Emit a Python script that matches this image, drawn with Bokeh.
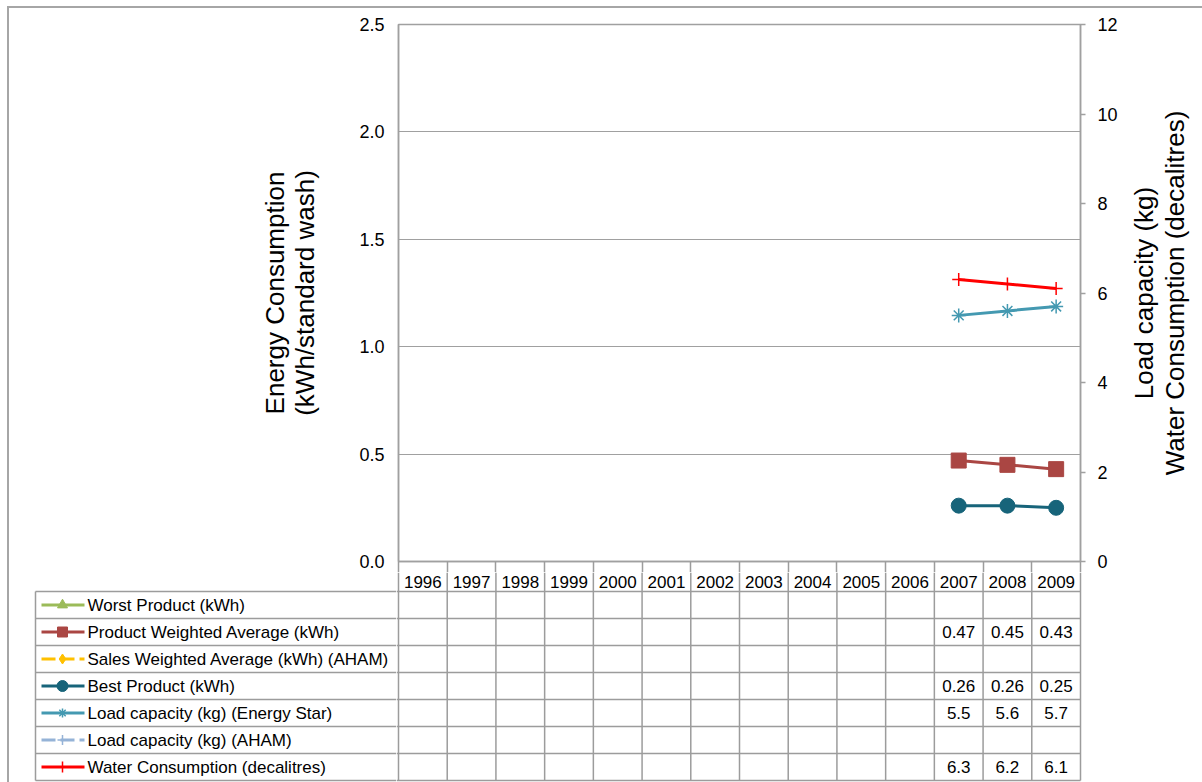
import math
import numpy as np
from bokeh.plotting import figure
from bokeh.models import (Range1d, LinearAxis, FixedTicker, PrintfTickFormatter,
                          ColumnDataSource)
from bokeh.layouts import column, row
from bokeh.embed import file_html
from bokeh.resources import INLINE
from bokeh.core.properties import value

# ---- data -------------------------------------------------------------
years = [1996, 1997, 1998, 1999, 2000, 2001, 2002, 2003, 2004, 2005, 2006, 2007, 2008, 2009]

worst_kwh = [None, None, None, None, None, None, None, None, None, None, None, None, None, None]
product_weighted_kwh = [None, None, None, None, None, None, None, None, None, None, None, 0.47, 0.45, 0.43]
sales_weighted_kwh = [None, None, None, None, None, None, None, None, None, None, None, None, None, None]
best_kwh = [None, None, None, None, None, None, None, None, None, None, None, 0.26, 0.26, 0.25]
load_energy_star_kg = [None, None, None, None, None, None, None, None, None, None, None, 5.5, 5.6, 5.7]
load_aham_kg = [None, None, None, None, None, None, None, None, None, None, None, None, None, None]
water_decalitres = [None, None, None, None, None, None, None, None, None, None, None, 6.3, 6.2, 6.1]

series_names = [
    "Worst Product (kWh)",
    "Product Weighted Average (kWh)",
    "Sales Weighted Average (kWh) (AHAM)",
    "Best Product (kWh)",
    "Load capacity (kg) (Energy Star)",
    "Load capacity (kg) (AHAM)",
    "Water Consumption (decalitres)",
]
series_values = [worst_kwh, product_weighted_kwh, sales_weighted_kwh, best_kwh,
                 load_energy_star_kg, load_aham_kg, water_decalitres]
series_axis = ["energy", "energy", "energy", "energy", "load", "load", "load"]
series_format = ["%.2f", "%.2f", "%.2f", "%.2f", "%.1f", "%.1f", "%.1f"]

energy_ticks = [0.0, 0.5, 1.0, 1.5, 2.0, 2.5]
load_ticks = [0, 2, 4, 6, 8, 10, 12]

left_title = "Energy Consumption\n(kWh/standard wash)"
right_title = "Load capacity (kg)\nWater Consumption (decalitres)"

# ---- styling ------------------------------------------------------------
FONT = "Liberation Sans"
GRID = "#A0A0A0"
TABLE_LINE = "#9C9C9C"
colors = ["#9BBB59", "#AA4643", "#FFC000", "#17647A", "#4499B1", "#95B3D7", "#FF0000"]
markers = ["triangle", "square", "diamond", "circle", "asterisk", "cross", "cross"]
dashes = ["solid", "solid", "14 5", "solid", "solid", "14 5", "solid"]
plot_marker_size = [13, 15, 13, 15, 14, 12, 13]
key_marker_size = [10, 10, 10, 11, 9, 10, 11]
marker_line = [1, 1, 1, 1, 1.5, 1.5, 1.5]

W = 1193                      # layout width (page is offset by the outer frame)
TITLE_W = 74                  # strip holding the right-hand axis title
PX_PER_YEAR = 682 / len(years)
LABEL_COL = 363 / PX_PER_YEAR  # legend column width in year units
ROW_PX = 27
HEADER = 30 / ROW_PX           # height of the year header row, in row units
STUB = 11                      # px of header row drawn by the chart's own x axis
TOP_H = 561 - 8 + STUB
n_rows = len(series_names)

x0 = years[0] - 0.5
x1 = years[-1] + 0.5
xl = x0 - LABEL_COL
pad = 2 / PX_PER_YEAR

# ---- chart ------------------------------------------------------------
top = figure(width=W - TITLE_W, height=TOP_H, x_range=Range1d(x0, x1), y_range=Range1d(0, 2.5),
             output_backend="svg", toolbar_location=None,
             min_border_left=389, min_border_right=122 - TITLE_W, min_border_top=16,
             min_border_bottom=STUB)
top.outline_line_color = GRID
top.outline_line_width = 1.5
top.background_fill_color = "white"
top.border_fill_color = "white"
top.xgrid.visible = False
top.ygrid.ticker = FixedTicker(ticks=energy_ticks)
top.ygrid.grid_line_color = GRID
top.ygrid.grid_line_width = 1

# column separators start right under the plot area
xa = top.xaxis[0]
xa.ticker = FixedTicker(ticks=[], minor_ticks=[yr - 0.5 for yr in years] + [x1])
xa.axis_line_color = GRID
xa.axis_line_width = 1.5
xa.major_tick_out = 0
xa.major_tick_in = 0
xa.minor_tick_in = 0
xa.minor_tick_out = STUB
xa.minor_tick_line_color = TABLE_LINE
xa.minor_tick_line_width = 1.5
xa.major_label_standoff = 0

left = top.yaxis[0]
left.ticker = FixedTicker(ticks=energy_ticks)
left.formatter = PrintfTickFormatter(format="%.1f")
left.axis_label = left_title

top.extra_y_ranges = {"load": Range1d(0, 12)}
right = LinearAxis(y_range_name="load", ticker=FixedTicker(ticks=load_ticks),
                   formatter=PrintfTickFormatter(format="%d"))
top.add_layout(right, "right")

for ax, tick_out, lab_standoff in ((left, 0, 14), (right, 5, 12)):
    ax.axis_line_color = GRID
    ax.axis_line_width = 1.5
    ax.major_tick_out = tick_out
    ax.major_tick_in = 0
    ax.minor_tick_out = 0
    ax.minor_tick_in = 0
    ax.major_tick_line_color = GRID
    ax.major_tick_line_width = 1.5
    ax.major_label_standoff = lab_standoff
    ax.major_label_text_font = FONT
    ax.major_label_text_font_size = "18px"
    ax.major_label_text_color = "black"

left.axis_label_text_font = FONT
left.axis_label_text_font_size = "26px"
left.axis_label_text_font_style = "normal"
left.axis_label_text_color = "black"
left.axis_label_text_line_height = 1.0
left.axis_label_standoff = 36

for vals, kind, col, mk, dash, ms, mlw in zip(series_values, series_axis, colors, markers,
                                              dashes, plot_marker_size, marker_line):
    y = np.array(vals, dtype=float)
    src = ColumnDataSource(dict(x=years, y=y))
    rng = "default" if kind == "energy" else "load"
    top.line("x", "y", source=src, y_range_name=rng, line_color=col, line_width=3,
             line_dash=dash)
    top.scatter("x", "y", source=src, y_range_name=rng, marker=mk, size=ms,
                fill_color=col, line_color=col, line_width=mlw)

# right-hand axis title, reading bottom to top like the left one
title_strip = figure(width=TITLE_W, height=TOP_H, x_range=Range1d(0, TITLE_W),
                     y_range=Range1d(0, 12), output_backend="svg", toolbar_location=None,
                     x_axis_location=None, y_axis_location=None,
                     min_border_left=0, min_border_right=0, min_border_top=16,
                     min_border_bottom=STUB)
title_strip.outline_line_color = None
title_strip.grid.visible = False
title_strip.text(x=[31], y=[6], text=[right_title], angle=math.pi / 2,
                 text_font=value(FONT), text_font_size="26px", text_color="black",
                 text_align="center", text_baseline="middle", text_line_height=1.05)

# ---- data table ---------------------------------------------------------
y_top = -(HEADER - STUB / ROW_PX)   # table figures start just below the axis stub
TABLE_H = 782 - 8 - TOP_H

def table_fig(width, xr, border_left, border_right):
    f = figure(width=width, height=TABLE_H, x_range=xr,
               y_range=Range1d(y_top + TABLE_H / ROW_PX, y_top),
               output_backend="svg", toolbar_location=None,
               x_axis_location=None, y_axis_location=None,
               min_border_left=border_left, min_border_right=border_right,
               min_border_top=0, min_border_bottom=0)
    f.outline_line_color = None
    f.grid.visible = False
    f.background_fill_color = "white"
    f.border_fill_color = "white"
    return f

# legend column
names = table_fig(387, Range1d(xl - pad, x0 - pad), 24, 0)
row_edges = list(range(n_rows + 1))
names.segment(x0=[xl] * len(row_edges), y0=row_edges, x1=[x0] * len(row_edges), y1=row_edges,
              line_color=TABLE_LINE, line_width=1.5)
names.segment(x0=[xl], y0=[0], x1=[xl], y1=[n_rows], line_color=TABLE_LINE, line_width=1.5)

key_a = xl + 6 / PX_PER_YEAR
key_b = xl + 49 / PX_PER_YEAR
key_m = xl + 27 / PX_PER_YEAR
name_x = xl + 52 / PX_PER_YEAR
for r, (name, col, mk, dash, ms, mlw) in enumerate(zip(series_names, colors, markers, dashes,
                                                         key_marker_size, marker_line)):
    yc = r + 0.5
    names.line(x=[key_a, key_b], y=[yc, yc], line_color=col, line_width=3, line_dash=dash)
    names.scatter(x=[key_m], y=[yc], marker=mk, size=ms, fill_color=col, line_color=col,
                  line_width=mlw)
    names.text(x=[name_x], y=[yc], text=[name], text_font=value(FONT), text_font_size="17px",
               text_align="left", text_baseline="middle", text_color="black")

# year header and value cells
cells = table_fig(W - 387, Range1d(x0 - pad, x1 + pad), 0, 120)
col_edges = [yr - 0.5 for yr in years] + [x1]
cells.segment(x0=col_edges, y0=[y_top] * len(col_edges), x1=col_edges,
              y1=[n_rows] * len(col_edges), line_color=TABLE_LINE, line_width=1.5)
cells.segment(x0=[x0 - pad] * len(row_edges), y0=row_edges, x1=[x1] * len(row_edges), y1=row_edges,
              line_color=TABLE_LINE, line_width=1.5)
header_mid = (y_top + 0) / 2
cells.text(x=years, y=[header_mid] * len(years), text=[str(yr) for yr in years],
           text_font=value(FONT), text_font_size="17px", text_align="center",
           text_baseline="middle", text_color="black")

vx, vy, vt = [], [], []
for r, (vals, fmt) in enumerate(zip(series_values, series_format)):
    for yr, v in zip(years, vals):
        if v is not None:
            vx.append(yr)
            vy.append(r + 0.5)
            vt.append(fmt % v)
cells.text(x=vx, y=vy, text=vt, text_font=value(FONT), text_font_size="17px",
           text_align="center", text_baseline="middle", text_color="black")

layout = column(row(top, title_strip, spacing=0), row(names, cells, spacing=0), spacing=0,
                styles={"border-top": "2px solid #A6A6A6", "border-left": "2px solid #A6A6A6",
                        "margin-left": "7px", "margin-top": "6px"})

open("out.html", "w").write(file_html(layout, INLINE))
